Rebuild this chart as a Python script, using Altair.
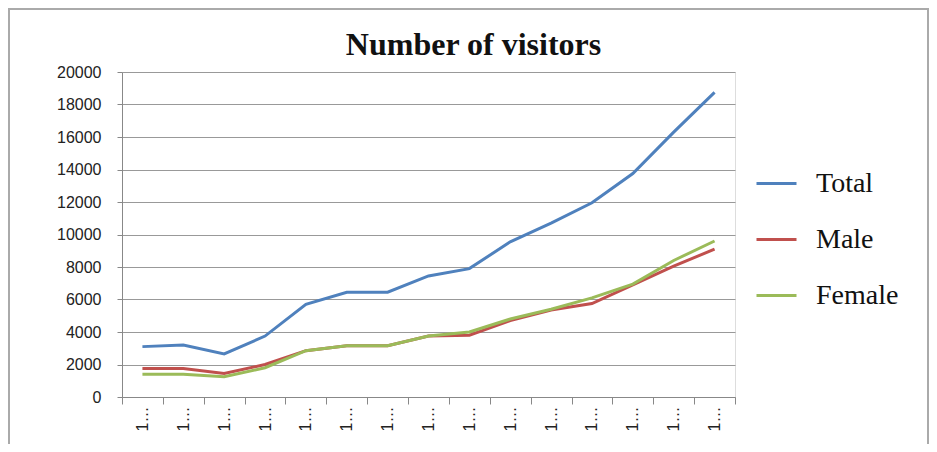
import altair as alt
import pandas as pd

periods = [f"P{i}" for i in range(1, 16)]
tick_label = "1…"
total = [3100, 3200, 2650, 3750, 5700, 6450, 6450, 7450, 7900, 9550, 10700, 11950, 13750, 16300, 18750]
male = [1750, 1750, 1450, 2000, 2850, 3150, 3150, 3750, 3800, 4700, 5350, 5750, 6900, 8050, 9100]
female = [1400, 1400, 1250, 1800, 2850, 3150, 3150, 3750, 4000, 4800, 5400, 6100, 6950, 8400, 9600]
series = ["Total", "Male", "Female"]
colors = ["#4F81BD", "#C0504D", "#9BBB59"]

rows = []
for name, vals in zip(series, [total, male, female]):
    for p, v in zip(periods, vals):
        rows.append({"period": p, "series": name, "value": v})
df = pd.DataFrame(rows)

W, H = 613, 325
PAD = {"left": 114, "top": 64, "right": 194, "bottom": 47}

lines = alt.Chart(df).mark_line(strokeWidth=3).encode(
    x=alt.X("period:N", sort=periods, bandPosition=0.5,
            scale=alt.Scale(type="band", paddingInner=0, paddingOuter=0),
            axis=alt.Axis(title=None, labelExpr=f"datum.label ? '{tick_label}' : ''", labelAngle=270,
                          labelAlign="right", labelBaseline="middle",
                          labelFont="Liberation Sans", labelFontSize=16, labelColor="#222",
                          labelPadding=2, tickBand="extent", tickSize=7,
                          tickColor="#888", domainColor="#888", grid=False)),
    y=alt.Y("value:Q", scale=alt.Scale(domain=[0, 20000]),
            axis=alt.Axis(title=None, values=list(range(0, 20001, 2000)), format="d",
                          labelFont="Liberation Sans", labelFontSize=16, labelColor="#222",
                          labelPadding=16, tickSize=5, tickColor="#888",
                          domainColor="#888", gridColor="#999", gridWidth=1.2)),
    color=alt.Color("series:N", sort=series,
                    scale=alt.Scale(domain=series, range=colors),
                    legend=alt.Legend(title=None, orient="none", legendX=633, legendY=90,
                                      symbolType="stroke", symbolSize=1600,
                                      symbolStrokeWidth=3, rowPadding=20,
                                      labelFont="Liberation Serif", labelFontSize=28,
                                      labelColor="#111", labelOffset=18, padding=0)),
)

frame = alt.Chart(pd.DataFrame({"f": [0]})).mark_rect(
    fill=None, stroke="#aaa", strokeWidth=2
).encode(
    x=alt.value(-PAD["left"] + 1), x2=alt.value(W + PAD["right"] - 1),
    y=alt.value(-PAD["top"] + 1), y2=alt.value(H + PAD["bottom"] + 10),
)

chart = alt.layer(frame, lines).properties(
    width=W, height=H,
    title=alt.TitleParams("Number of visitors", font="Liberation Serif", fontSize=32,
                          fontWeight="bold", color="#111", anchor="middle", dx=45, offset=-54),
    padding=PAD,
    autosize=alt.AutoSizeParams(type="none"),
).configure_view(stroke=None).configure(background="white")

chart.save("out.html", embed_options={"renderer": "svg", "actions": False})
